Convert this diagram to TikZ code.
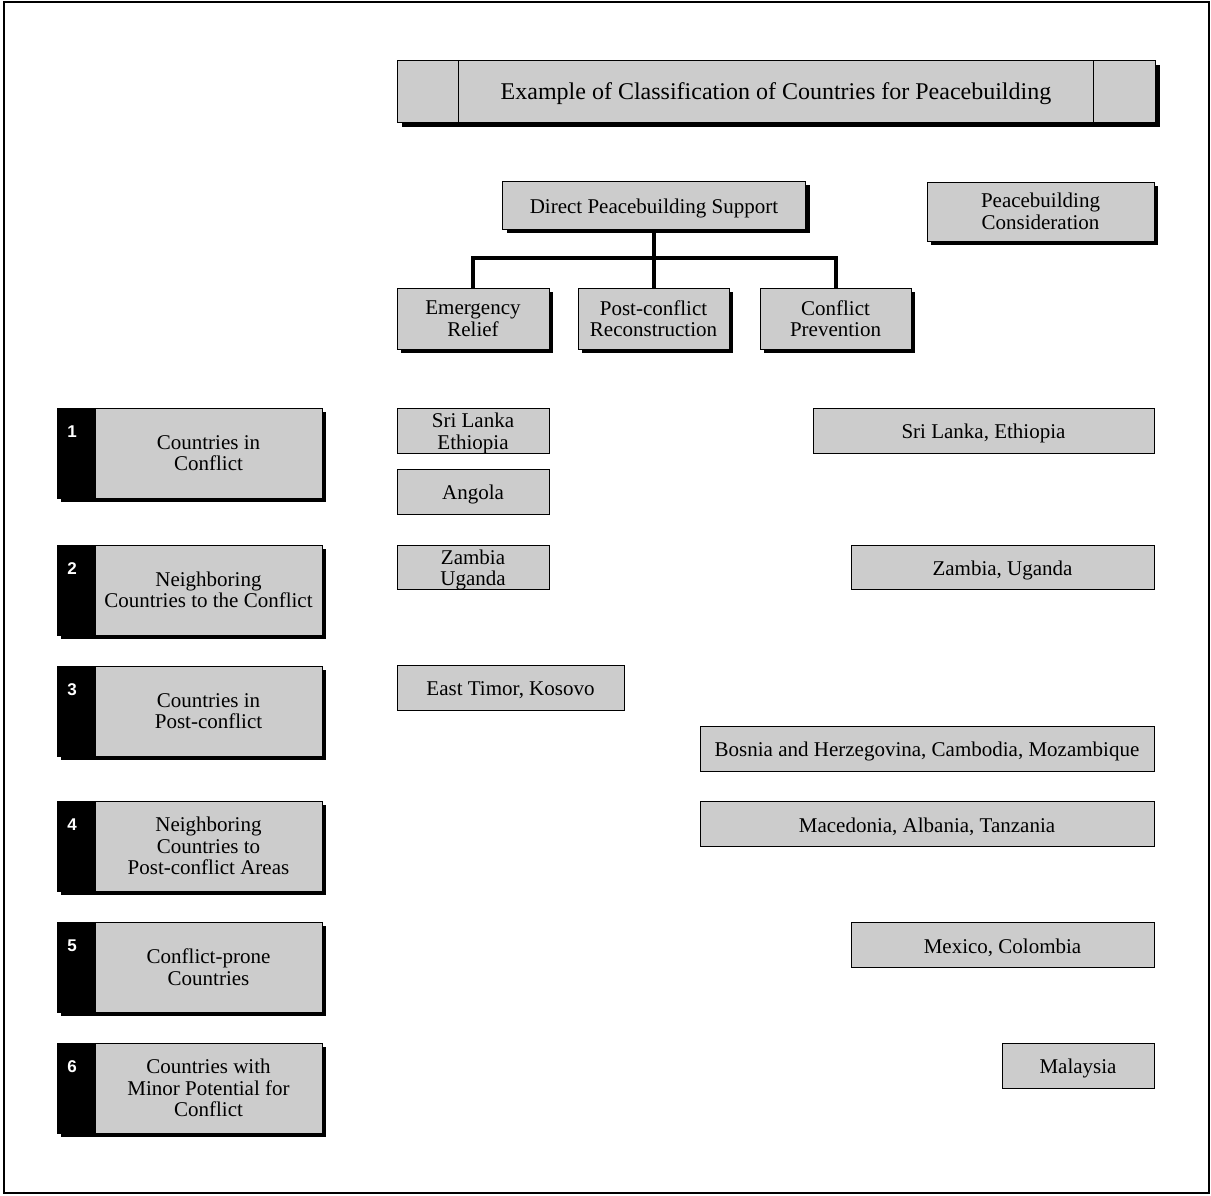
\documentclass[tikz,border=0pt]{standalone}
\usepackage{fontspec}
\setmainfont{Liberation Serif}
\newfontfamily\numfont{Liberation Sans}
\usetikzlibrary{shadows}
\definecolor{boxgray}{HTML}{CCCCCC}
% box with text lowered by 3pt: [opts]{name}{cx}{cy}{w}{h}{text}
\newcommand\lowbox[7][]{%
  \node[base, #1, minimum width=#5, minimum height=#6] (#2) at (#3,#4) {};
  \node[txt] (#2-t) at ([yshift=-3pt]#2.center) {#7};}
\begin{document}
\begin{tikzpicture}[x=1pt,y=-1pt,
  base/.style={draw=black, line width=0.9pt, fill=boxgray, inner sep=0pt, outer sep=0pt, align=center, font=\fontsize{21}{21.5}\selectfont},
  txt/.style={inner sep=0pt, align=center, font=\fontsize{21}{21.5}\selectfont},
  shad/.style={drop shadow={shadow xshift=#1pt, shadow yshift=-#1pt, opacity=1, fill=black}},
  catback/.style={draw=black, line width=0.9pt, fill=black, inner sep=0pt, outer sep=0pt, shad=4},
  numlab/.style={text=white, font=\numfont\bfseries\fontsize{17}{17}\selectfont, inner sep=0pt},
  conn/.style={line width=4pt, draw=black}
]
\useasboundingbox (0,0) rectangle (1211,1195);
\draw[line width=2pt] (4,2) rectangle (1209,1193);

% title
\node[base, shad=5, minimum width=758, minimum height=62] (title) at (776,91) {};
\node[txt, font=\fontsize{24}{26}\selectfont] (title-t) at ([yshift=-3pt]title.center) {Example of Classification of Countries for Peacebuilding};
\draw[line width=0.9pt] ([xshift=61pt]title.north west) -- ([xshift=61pt]title.south west);
\draw[line width=0.9pt] ([xshift=-62pt]title.north east) -- ([xshift=-62pt]title.south east);

% support headers
\lowbox[shad=4]{dps}{654}{205}{303}{48}{Direct Peacebuilding Support}
\node[base, shad=4, minimum width=227, minimum height=59] (pc) at (1040.5,211.5) {Peacebuilding\\Consideration};
\node[base, shad=4, minimum width=152, minimum height=61] (er) at (473,318.5) {Emergency\\Relief};
\node[base, shad=4, minimum width=151, minimum height=61] (pr) at (653.5,318.5) {Post-conflict\\Reconstruction};
\node[base, shad=4, minimum width=151, minimum height=61] (cp) at (835.5,318.5) {Conflict\\Prevention};

\coordinate (jn) at (654,258);
\draw[conn] (dps.south) -- (jn);
\draw[conn, line cap=rect] (er.north |- jn) -- (cp.north |- jn);
\draw[conn] (er.north |- jn) -- (er.north);
\draw[conn] (pr.north |- jn) -- (pr.north);
\draw[conn] (cp.north |- jn) -- (cp.north);

% categories
\foreach \i/\t/\txt in {1/408/{Countries in\\Conflict},
                        2/545/{Neighboring\\Countries to the Conflict},
                        3/666/{Countries in\\Post-conflict},
                        4/801/{Neighboring\\Countries to\\Post-conflict Areas},
                        5/922/{Conflict-prone\\Countries},
                        6/1043/{Countries with\\Minor Potential for\\Conflict}}{
  \node[catback, minimum width=265, minimum height=90, anchor=north west] (c\i) at (57,\t) {};
  \node[base, minimum width=227, minimum height=90, anchor=north west] (c\i t) at (95,\t) {\txt};
  \node[numlab] (n\i) at (72,\t+24) {\i};
}

% results
\lowbox{sl1}{473}{430.5}{152}{45}{Sri Lanka\\Ethiopia}
\lowbox{ang}{473}{491.5}{152}{45}{Angola}
\lowbox{zu1}{473}{567}{152}{44}{Zambia\\Uganda}
\lowbox{etk}{510.5}{687.5}{227}{45}{East Timor, Kosovo}
\lowbox{sl2}{983.5}{430.5}{341}{45}{Sri Lanka, Ethiopia}
\lowbox{zu2}{1002.5}{567}{303}{44}{Zambia, Uganda}
\lowbox{bos}{927}{748.5}{454}{45}{Bosnia and Herzegovina, Cambodia, Mozambique}
\lowbox{mac}{927}{823.5}{454}{45}{Macedonia, Albania, Tanzania}
\lowbox{mex}{1002.5}{944.5}{303}{45}{Mexico, Colombia}
\lowbox{mal}{1078}{1065.5}{152}{45}{Malaysia}
\end{tikzpicture}
\end{document}
